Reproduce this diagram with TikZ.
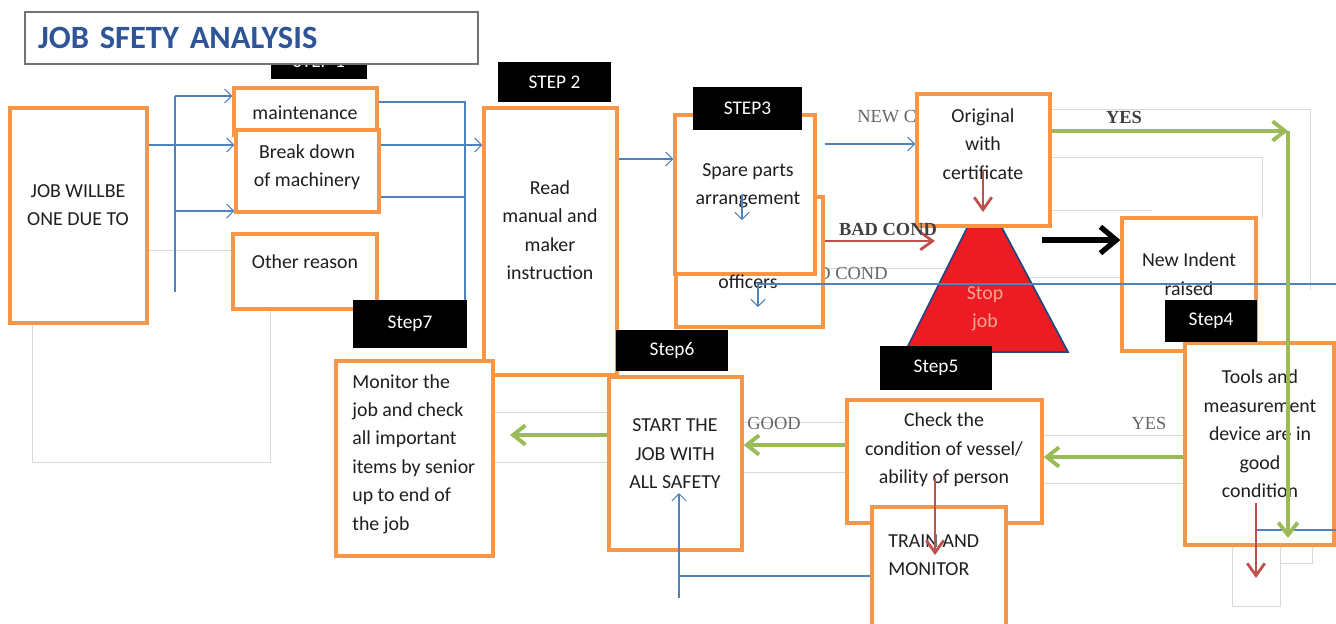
\documentclass[tikz,border=0pt]{standalone}
\usepackage{fontspec}
\setmainfont{Carlito}
\newfontfamily\lblserif{Liberation Serif}
\usetikzlibrary{arrows.meta}

\definecolor{boxorange}{RGB}{247,150,70}
\definecolor{lineblue}{RGB}{79,129,189}
\definecolor{arrgreen}{RGB}{155,187,89}
\definecolor{arrred}{RGB}{192,80,77}
\definecolor{stopred}{RGB}{237,28,36}
\definecolor{stoptext}{RGB}{248,165,145}
\definecolor{titleblue}{RGB}{47,85,151}
\definecolor{edgeblue}{RGB}{31,73,125}

\tikzset{
  box/.style={draw=boxorange, line width=1.9pt, fill=white, inner sep=0pt},
  steplbl/.style={fill=black, text=white, inner sep=0pt, font=\fontsize{11}{13}\selectfont},
  txt/.style={inner sep=0pt, align=center, text=black!88, font=\fontsize{11.3}{16.2}\selectfont},
  lbl/.style={inner sep=0pt, text=black!60, font=\lblserif\fontsize{10.5}{12}\selectfont},
  lblbold/.style={inner sep=0pt, text=black!75, font=\lblserif\bfseries\fontsize{10.5}{12}\selectfont},
  blueline/.style={draw=lineblue, line width=0.6pt},
  bluearr/.style={blueline, -{Straight Barb[length=4pt,width=8pt]}},
  greenarr/.style={draw=arrgreen, line width=2.2pt, -{Straight Barb[length=7pt,width=11pt]}},
  redarr/.style={draw=arrred, line width=1.6pt, -{Straight Barb[length=7pt,width=10pt]}},
  blackarr/.style={draw=black, line width=3pt, -{Straight Barb[length=9pt,width=15pt]}},
  faint/.style={draw=black!15, line width=0.5pt}
}

\begin{document}
\begin{tikzpicture}[x=0.02cm, y=-0.02cm]
\useasboundingbox (0,0) rectangle (1336,623);

% faint frames in the back
\draw[faint] (32,250) rectangle (270,462);
\draw[faint] (493,412) -- (609,412);
\draw[faint] (493,462) -- (609,462);
\draw[faint] (742,422) -- (847,422);
\draw[faint] (742,472) -- (847,472);
\draw[faint] (1042,435) -- (1185,435);
\draw[faint] (1042,483) -- (1185,483);
\draw[faint] (1050,109) -- (1310,109) -- (1310,290);
\draw[faint] (1050,157) -- (1262,157) -- (1262,218);
\draw[faint] (1050,210) -- (1152,210);
\draw[faint] (820,268) -- (1000,268);
\draw[faint] (1000,277) -- (1120,277);
\draw[faint] (1232,545) -- (1232,606) -- (1280,606) -- (1280,545);
\draw[faint] (1280,563) -- (1312,563) -- (1312,545);

% title and the tag hidden under it
\node[steplbl, minimum width=1.92cm, minimum height=0.72cm] (step1) at (319,61) {STEP 1};
\node[draw=black!55, line width=0.8pt, fill=white, minimum width=9.06cm, minimum height=1.04cm,
      text width=8.54cm, inner xsep=0.26cm, inner ysep=0pt, align=left, text=titleblue,
      font=\bfseries\fontsize{18.5}{20}\selectfont] (title) at (251.5,38) {JOB SFETY ANALYSIS};

% labels partly hidden by boxes
\node[lbl, anchor=west] (newc) at (857,117) {NEW COND};
\node[lbl, anchor=east] (goodc) at (888,273) {GOOD COND};

% stop sign
\draw[fill=stopred, draw=edgeblue, line width=1pt] (905,352) -- (1068,352) -- (984,194) -- cycle;
\node[txt, text=stoptext] (stopT) at (985,309) {Stop\\job};

% boxes
\node[box, minimum width=2.74cm, minimum height=4.30cm] (job) at (78.5,215.5) {};
\node[box, minimum width=2.86cm, minimum height=0.94cm] (maint) at (305.5,111.5) {};
\node[box, minimum width=2.86cm, minimum height=1.64cm] (brk) at (307.5,171) {};
\node[box, minimum width=2.88cm, minimum height=1.50cm] (other) at (305,271.5) {};
\node[box, minimum width=2.66cm, minimum height=5.34cm] (read) at (550.5,241.5) {};
\node[box, minimum width=2.94cm, minimum height=2.60cm] (officers) at (749.5,262) {};
\node[box, minimum width=2.80cm, minimum height=3.18cm] (spare) at (745,194.5) {};
\node[box, minimum width=2.66cm, minimum height=2.64cm] (orig) at (983.5,160) {};
\node[box, minimum width=2.68cm, minimum height=2.66cm] (indent) at (1189,284.5) {};
\node[box, minimum width=2.98cm, minimum height=4.04cm] (tools) at (1259.5,444) {};
\node[box, minimum width=3.90cm, minimum height=2.46cm] (check) at (944.5,461.5) {};
\node[box, minimum width=2.68cm, minimum height=2.66cm] (train) at (939,573.5) {};
\node[box, minimum width=2.66cm, minimum height=3.46cm] (start) at (675.5,463.5) {};
\node[box, minimum width=3.14cm, minimum height=3.90cm] (monitor) at (414.5,458.5) {};

% box texts
\node[txt] (jobT) at (78,205) {JOB WILLBE\\ONE DUE TO};
\node[txt] (maintT) at (305,113) {maintenance};
\node[txt] (brkT) at (307,167) {Break down\\of machinery};
\node[txt] (otherT) at (305,262) {Other reason};
\node[txt] (readT) at (550,230) {Read\\manual and\\maker\\instruction};
\node[txt] (offT) at (748,282) {officers};
\node[txt] (spareT) at (748,186) {Spare parts\\arrangement};
\node[txt] (origT) at (983,144) {Original\\with\\certificate};
\node[txt] (indentT) at (1189,274) {New Indent\\raised};
\node[txt] (toolsT) at (1260,434) {Tools and\\measurement\\device are in\\good\\condition};
\node[txt] (checkT) at (944,450) {Check the\\condition of vessel/\\ability of person};
\node[txt, align=left, anchor=west] (trainT) at (888,555) {TRAIN AND\\MONITOR};
\node[txt] (startT) at (675,454) {START THE\\JOB WITH\\ALL SAFETY};
\node[txt, align=left, anchor=west] (monT) at (352,454) {Monitor the\\job and check\\all important\\items by senior\\up to end of\\the job};

% blue connectors
\coordinate (t1) at (175,96);
\coordinate (t2) at (175,211);
\coordinate (t3) at (175,292);
\coordinate (r1) at (465,102);
\coordinate (r2) at (465,300);
\coordinate (yB) at (0,145);
\coordinate (yC) at (0,197);
\coordinate (yD) at (0,159);
\coordinate (yE) at (0,144);
\draw[blueline] (t1) -- (t3);
\draw[bluearr] (t1) -- (maint.west |- t1);
\draw[bluearr] (job.east |- yB) -- (brk.west |- yB);
\draw[bluearr] (t2) -- (brk.west |- t2);
\draw[blueline] (maint.east |- r1) -- (r1) -- (r2);
\draw[blueline] (brk.east |- yC) -- (r1 |- yC);
\draw[bluearr] (brk.east |- yB) -- (read.west |- yB);
\draw[bluearr] (read.east |- yD) -- (spare.west |- yD);
\draw[bluearr] (officers.east |- yE) -- (orig.west |- yE);

\coordinate (v1) at (742,195);
\coordinate (v2) at (742,220);
\draw[bluearr] (v1) -- (v2);
\coordinate (u1) at (1336,284);
\coordinate (u2) at (758,284);
\coordinate (u3) at (758,307);
\draw[bluearr] (u1) -- (u2) -- (u3);
\coordinate (w1) at (1257,530);
\draw[blueline] (w1) -- (tools.east |- w1);

\coordinate (s1) at (679,576);
\coordinate (s2) at (679,493);
\coordinate (s3) at (679,598);
\draw[bluearr] (train.west |- s1) -- (s1) -- (s2);
\draw[blueline] (s1) -- (s3);

% red connectors
\coordinate (yF) at (0,241);
\coordinate (badEnd) at (935,241);
\draw[redarr] (officers.east |- yF) -- (badEnd);
\coordinate (o1) at (983,170);
\coordinate (o2) at (983,212);
\draw[redarr] (o1) -- (o2);
\coordinate (c1) at (935,478);
\coordinate (c2) at (935,555);
\draw[redarr] (c1) -- (c2);
\coordinate (k1) at (1256,503);
\coordinate (k2) at (1256,578);
\draw[redarr] (k1) -- (k2);

% black connector
\coordinate (b1) at (1042,240);
\draw[blackarr] (b1) -- (indent.west |- b1);

% green connectors
\coordinate (g1) at (1288,131);
\coordinate (g2) at (1288,538);
\draw[greenarr] (orig.east |- g1) -- (g1);
\draw[greenarr] (g1) -- (g2);
\coordinate (yI) at (0,457);
\draw[greenarr] (tools.west |- yI) -- (check.east |- yI);
\coordinate (yJ) at (0,445);
\draw[greenarr] (check.west |- yJ) -- (start.east |- yJ);
\coordinate (yK) at (0,435);
\coordinate (m1) at (510,435);
\draw[greenarr] (start.west |- yK) -- (m1);

% step tags
\node[steplbl, minimum width=2.26cm, minimum height=0.80cm] (step2) at (554.5,82) {STEP 2};
\node[steplbl, minimum width=2.18cm, minimum height=0.86cm] (step3) at (747.5,108.5) {STEP3};
\node[steplbl, minimum width=1.84cm, minimum height=0.84cm] (step4) at (1211,321) {Step4};
\node[steplbl, minimum width=2.24cm, minimum height=0.88cm] (step5) at (936,368) {Step5};
\node[steplbl, minimum width=2.24cm, minimum height=0.82cm] (step6) at (672,350.5) {Step6};
\node[steplbl, minimum width=2.28cm, minimum height=0.96cm] (step7) at (410,324) {Step7};

% connector labels
\node[lblbold] (badL) at (888,229) {BAD COND};
\node[lblbold] (yesT) at (1124,117) {YES};
\node[lbl] (yesB) at (1149,423) {YES};
\node[lbl] (goodL) at (774,423) {GOOD};
\end{tikzpicture}
\end{document}
